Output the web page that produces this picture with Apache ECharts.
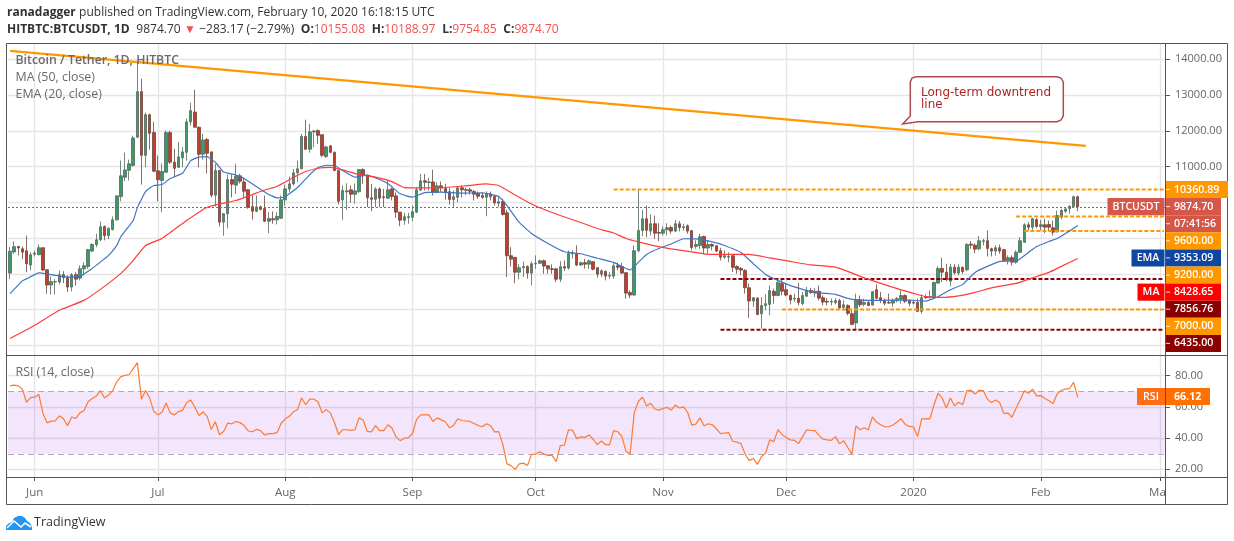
<!DOCTYPE html>
<html>
<head>
<meta charset="utf-8">
<title>BTCUSDT</title>
<script src="https://cdn.jsdelivr.net/npm/echarts@6/dist/echarts.min.js"></script>
<style>html,body{margin:0;padding:0;background:#fff}#c{width:1234px;height:541px}</style>
</head>
<body>
<div id="c"></div>
<script>
const opens = [
8020,8610,8765,8700,8645,8245,8550,8535,8730,8115,
7685,7770,7770,7975,7890,7630,7975,7880,8140,8205,
8635,8815,8950,9325,9070,9240,9510,10160,10700,10895,
11030,11820,13095,11315,12450,11950,10880,10610,10840,11950,
11120,10980,11245,11400,12250,12525,12100,11345,11755,11410,
10200,10890,9445,9680,10635,10480,10740,10570,10350,9880,
9750,9875,9825,9470,9540,9510,9555,10070,10375,10515,
10825,10935,11840,11485,11970,12005,11890,11280,11580,11400,
10890,10070,10295,10350,10225,10300,10915,10755,10125,10085,
10375,10155,10115,10375,10180,9725,9500,9575,9585,9725,
10340,10600,10555,10570,10280,10460,10385,10295,10080,10140,
10405,10355,10350,10300,10245,10190,10140,10235,10160,9975,
10015,9705,8505,8460,8045,8170,8205,8020,8280,8295,
8365,8225,8140,8140,7850,8200,8160,8560,8560,8245,
8310,8270,8340,8170,7990,8065,7935,7935,8225,8205,
8030,7480,7405,8645,9210,9540,9195,9400,9155,9135,
9230,9295,9195,9400,9290,9345,9205,8765,8795,9045,
8720,8820,8785,8645,8465,8465,8505,8205,8150,8095,
7610,7240,7315,6885,7110,7145,7510,7395,7725,7555,
7395,7295,7315,7170,7375,7535,7460,7510,7330,7230,
7210,7195,7250,7060,7115,6885,6625,7275,7145,7195,
7125,7555,7330,7255,7200,7180,7250,7295,7390,7255,
7200,7200,6950,7360,7340,7340,7740,8150,8045,7795,
8185,8020,8180,8115,8830,8800,8700,8905,8925,8700,
8635,8730,8675,8375,8450,8325,8600,8885,9370,9305,
9520,9325,9370,9380,9285,9175,9585,9750,9825,9880,10155.08];
const highs = [
8750,8905,8775,8765,9070,8605,8645,8820,8735,8120,
7925,7850,8095,8075,7955,8020,8045,8235,8325,8700,
8855,9120,9465,9350,9305,9605,10185,11170,11390,11195,
11865,13960,13455,12510,12480,12255,11305,11090,12005,12005,
11495,11680,11540,12340,12785,13150,12115,11915,11800,11425,
11075,10905,9695,10775,10775,11075,10795,10700,10375,10190,
10190,9910,10190,9725,9745,9725,10190,10495,10720,10935,
11165,11915,12310,12190,12025,12040,11895,11585,11595,11420,
10895,10470,10535,10470,10525,10935,10950,10775,10515,10420,
10420,10375,10610,10405,10280,9730,9705,9705,9910,10420,
10795,10795,10685,10915,10560,10580,10515,10405,10330,10440,
10470,10405,10405,10350,10300,10280,10310,10300,10190,10145,
10095,9790,8745,8465,8265,8345,8235,8345,8515,8395,
8395,8235,8265,8160,8355,8375,8655,8655,8795,8345,
8420,8400,8345,8180,8125,8095,8045,8325,8310,8310,
8045,7535,8795,10350,9790,9910,9660,9630,9415,9325,
9415,9350,9510,9475,9400,9380,9230,8935,9120,9065,
8935,8855,8800,8730,8655,8605,8525,8235,8185,8130,
7725,7350,7350,7350,7425,7675,7585,7865,7865,7725,
7425,7445,7740,7490,7630,7610,7600,7675,7395,7320,
7305,7320,7305,7260,7145,7025,7445,7395,7305,7240,
7515,7705,7490,7305,7445,7305,7350,7535,7425,7275,
7255,7305,7425,7425,7535,7780,8205,8450,8280,8280,
8280,8265,8205,8855,8915,8855,9055,8980,9210,8730,
8795,8820,8700,8515,8515,8655,9025,9415,9445,9565,
9555,9510,9540,9490,9490,9770,9815,9860,9910,10185,10188.97];
const lows = [
7850,8560,8515,8410,8045,8095,8485,8515,8075,7445,
7425,7425,7705,7740,7490,7510,7675,7815,7955,8140,
8605,8745,8915,8935,8970,9210,9490,10030,10590,10610,
11000,11800,10495,10980,11475,10840,10030,9725,10830,11075,
10700,10960,10980,11165,12145,12095,10980,11195,10810,10135,
9880,9325,9065,9270,10135,10235,10525,10140,9820,9520,
9725,9770,9445,9135,9400,9380,9540,9910,10280,10470,
10560,10930,11465,11390,11540,11635,11260,11245,11370,10870,
9940,9510,9790,9985,9965,10255,10515,9865,9750,9865,
9865,9865,10095,10050,9565,9330,9370,9400,9470,9695,
10330,10330,10330,10190,10255,10280,10070,9940,9845,10000,
10140,10200,10220,10050,10095,10095,9610,10050,9910,9865,
9630,7910,8205,7740,7845,7910,7865,7675,8140,8280,
8000,8000,8000,7770,7770,8075,8115,8420,8215,8225,
8140,8140,8095,7890,7910,7815,7860,7860,8095,8000,
7305,7320,7390,8605,9055,9025,9070,8980,8915,9070,
9070,9120,9165,9185,9210,9120,8655,8700,8700,8560,
8560,8655,8605,8375,8420,8325,8050,8000,7955,7445,
6765,7070,6840,6465,6980,6840,7165,7370,7395,7370,
7145,7210,7115,7115,7350,7440,7350,7255,7115,7115,
7115,7145,7025,6960,6840,6560,6420,7070,7090,7090,
7110,7285,7180,7115,7165,7070,7200,7165,7180,7090,
7145,6925,6885,7305,7305,7320,7725,7770,7795,7655,
7980,7955,8000,8075,8700,8575,8655,8795,8485,8485,
8510,8560,8355,8260,8235,8280,8580,8860,9210,9230,
9285,9210,9135,9195,9070,9155,9530,9695,9680,9865,9754.85];
const closes = [
8630,8760,8720,8605,8280,8535,8580,8730,8105,7685,
7780,7780,7975,7890,7630,7975,7850,8140,8225,8675,
8820,8950,9315,9070,9270,9510,10180,10740,10905,11075,
11800,13095,11315,12450,11930,10870,10630,10860,11950,11120,
10950,11270,11410,12250,12565,12100,11345,11745,11370,10200,
10890,9445,9680,10635,10505,10720,10590,10310,9865,9750,
9865,9805,9470,9545,9510,9605,10070,10375,10515,10825,
10935,11840,11485,11970,11995,11875,11315,11550,11400,10890,
10030,10330,10320,10225,10320,10915,10755,10125,10085,10375,
10115,10135,10350,10160,9725,9500,9595,9595,9735,10350,
10600,10560,10570,10280,10460,10405,10280,10080,10155,10405,
10350,10335,10310,10225,10170,10140,10235,10160,9985,10015,
9660,8505,8410,8045,8170,8205,8020,8280,8295,8365,
8215,8140,8120,7850,8200,8160,8570,8580,8245,8310,
8270,8365,8130,7990,8085,7935,7955,8225,8185,8020,
7460,7405,8645,9210,9540,9220,9400,9135,9135,9230,
9290,9195,9400,9295,9315,9195,8735,8820,9035,8720,
8820,8775,8635,8465,8505,8485,8180,8130,8105,7610,
7240,7330,6865,7110,7165,7530,7395,7760,7515,7405,
7265,7315,7200,7390,7535,7480,7510,7320,7210,7210,
7230,7250,7045,7135,6895,6585,7275,7135,7200,7115,
7500,7315,7265,7175,7180,7250,7305,7390,7230,7175,
7180,6950,7330,7330,7360,7760,8150,8045,7835,8185,
8030,8185,8065,8820,8800,8690,8925,8925,8710,8635,
8730,8635,8375,8450,8325,8605,8925,9370,9305,9540,
9325,9370,9305,9305,9165,9630,9770,9815,9890,10158,9874.70];
const rsi = [
73.5,74,73.5,71.4,63,66,66.3,68,56,49.8,
50.9,51,54.3,52.4,48,53.6,52.6,56.2,57.6,63.3,
65.4,67,70.5,65.7,67.6,70.5,76.2,79.4,80.2,80.8,
84.6,88.4,65,70.5,65.7,57.2,54.9,56.6,62.5,56.2,
54.9,57,57.8,62.9,64.4,60,54.5,56.8,54,45.6,
50.5,42.2,44.3,49.6,49.2,50.7,50,48.1,44.6,44.1,
45.6,44.8,42,42.9,42.9,43.5,49.4,52.4,54,56.8,
58.3,65.7,61.4,65,65,63.3,56.2,58.3,56.2,50,
42.2,45.4,45.4,45,45.4,53,51.5,44.3,44,48,
44.8,44.8,48.6,46.5,40.8,38.4,40.1,40.3,43,52,
54.9,54.9,54.9,50.7,53,51.7,50.5,46.7,48.1,52.4,
51.3,51,50.7,49.4,48.1,47.3,49.2,48,44,44.2,
36,23.5,22.4,20,23.5,24,22.4,29.6,29.8,31.3,
29.8,29,29,25,35.3,35.5,45.4,45,39.7,40.8,
40.5,42,39.3,35.9,38.2,35.9,35.9,44.8,44.1,41,
31.5,30,56.2,63.5,66.3,60.6,62.3,58.7,58,59,
59.7,58,61.2,59.3,60,56.6,48.4,49,53,47.9,
49.2,48.6,46,42.9,43.3,43.5,38,37.4,36.5,29.8,
25.6,27,23.2,28.3,30.4,39,37.8,45.4,42.4,40.5,
38.9,38.6,36.5,41,45.4,45,44.8,41.8,39.3,38.9,
38.6,41,36.5,38.4,34,29.8,47.9,45.4,46.7,45.4,
53.6,50.3,48.6,47.3,47.3,48.4,50.3,52.4,48.8,47.5,
47.3,41,52.4,52.4,52.4,61.4,68.8,65.7,59.3,65.7,
60.8,63,61.4,70.5,70.7,68.2,70.7,70.5,65,62.9,
64.4,62.9,55.7,56.2,53.4,59.3,64.6,70.3,68.8,71.4,
67.1,67.3,65.4,64,62,68.4,70.7,71.4,71.8,75.8,66.12];
// [bar index, value]
const emaPoints = [[0,7444],[3,7802],[4,7857],[7,8025],[10,7975],[14,7908],[17,7927],[20,8151],[22,8327],[24,8514],[26,8793],[27,9044],[30,9491],[31,9854],[33,10301],[35,10469],[37,10497],[39,10664],[42,10812],[44,11167],[46,11265],[48,11279],[50,11120],[52,10846],[55,10762],[57,10664],[60,10441],[63,10218],[65,10125],[67,10153],[70,10413],[73,10776],[75,10972],[77,11036],[79,11028],[81,10888],[84,10701],[87,10762],[92,10525],[95,10237],[98,10142],[101,10273],[105,10282],[110,10254],[115,10265],[119,10162],[121,9910],[124,9436],[127,9128],[131,8849],[135,8617],[139,8561],[143,8436],[147,8318],[151,8109],[153,8318],[155,8542],[158,8709],[161,8835],[164,8980],[167,8975],[170,8919],[174,8793],[178,8598],[181,8282],[184,7983],[187,7816],[191,7634],[196,7480],[201,7425],[204,7313],[207,7263],[212,7257],[218,7271],[223,7237],[226,7360],[229,7556],[232,7704],[235,8039],[238,8207],[241,8346],[245,8355],[248,8598],[250,8765],[253,8905],[255,8989],[258,9198],[260,9353.09]];
const maPoints = [[0,6188],[6,6559],[12,6978],[18,7257],[22,7564],[27,8011],[30,8374],[33,8793],[37,8989],[43,9491],[48,9863],[55,10050],[62,10343],[65,10441],[69,10692],[72,10860],[75,10952],[78,10977],[81,10907],[85,10776],[89,10706],[93,10580],[96,10413],[101,10405],[105,10405],[111,10461],[116,10516],[119,10469],[123,10204],[128,9896],[134,9631],[140,9394],[143,9268],[147,9142],[150,8989],[153,8891],[157,8779],[161,8695],[166,8612],[170,8542],[175,8542],[180,8542],[185,8444],[190,8346],[195,8249],[201,8187],[204,8067],[207,7927],[212,7732],[217,7550],[220,7452],[223,7360],[227,7341],[231,7383],[235,7480],[239,7606],[245,7732],[249,7885],[253,8039],[256,8207],[260,8428.65]];
const trendPoints = [[0,14234],[262,11578]];
const levelValues = [10360.89,9600,9200,7856.76,7000,6435];
const levelStarts = [147,245,247,173,188,173];
const levelColors = ['#FF9800','#FF9800','#FF9800','#8B0000','#FF9800','#8B0000'];
const lastPrice = 9874.70;
const priceGrid = [14000,13000,12000,11000,10000,9000,8000,7000,6000];
const priceLabels = [14000,13000,12000,11000];
const rsiTicks = [80,60,40,20];
const rsiBounds = [70,30];
const monthIdx = [6,36,67,98,128,159,189,220,251,280];
const monthNames = ['Jun','Jul','Aug','Sep','Oct','Nov','Dec','2020','Feb','Mar'];
const startDay = Date.UTC(2019,4,26);
const categories = [];
for (let i=0;i<282;i++) categories.push(new Date(startDay+i*864e5).toISOString().slice(0,10));

const tagRows = [
 ['10360.89','#FF9800',null,62],['9874.70','#D5574A','BTCUSDT',55],['07:41:56','#D5574A',null,55],
 ['9600.00','#FF9800',null,55],['9353.09','#0D47A1','EMA',55],['9200.00','#FF9800',null,55],
 ['8428.65','#FF0000','MA',55],['7856.76','#8B0000',null,55],['7000.00','#FF9800',null,55],['6435.00','#8B0000',null,55]];
const FONT = '"Open Sans", "Noto Sans", sans-serif';

const graphics = [];
graphics.push({type:'rect',z:90,shape:{x:1166,y:478,width:61,height:26},style:{fill:'#fff'}});
[[6,43,1227,43],[6,504,1227,504],[6,355,1227,355],[6,477,1227,477],[6,43,6,504],[1227,43,1227,504],[1165,43,1165,504]]
 .forEach(l=>graphics.push({type:'line',z:95,shape:{x1:l[0]+.5,y1:l[1]+.5,x2:l[2]+.5,y2:l[3]+.5},style:{stroke:'#555',lineWidth:1}}));
tagRows.forEach((r,k)=>{
  const y = 181+k*17.1, h=17.1;
  graphics.push({type:'rect',z:100,shape:{x:1166,y:y,width:r[3],height:h},style:{fill:r[1]}});
  graphics.push({type:'rect',z:101,shape:{x:1166,y:y+8,width:4,height:1},style:{fill:'rgba(255,255,255,.85)'}});
  graphics.push({type:'text',z:102,x:1174,y:y+h/2,style:{text:r[0],font:'600 10.6px '+FONT,fill:'#fff',textVerticalAlign:'middle',textAlign:'left'}});
  if (r[2]) {
    const w = r[2]==='BTCUSDT'?57:r[2]==='EMA'?33:27;
    graphics.push({type:'rect',z:100,shape:{x:1164.5-w,y:y,width:w,height:h},style:{fill:r[1]}});
    graphics.push({type:'text',z:102,x:1164.5-w/2,y:y+h/2,style:{text:r[2],font:'600 10.6px '+FONT,fill:'#fff',textAlign:'center',textVerticalAlign:'middle'}});
  }
});
graphics.push({type:'rect',z:100,shape:{x:1137,y:388,width:28,height:17},style:{fill:'#FF6D14'}});
graphics.push({type:'text',z:102,x:1151,y:396.5,style:{text:'RSI',font:'600 10.6px '+FONT,fill:'#fff',textAlign:'center',textVerticalAlign:'middle'}});
graphics.push({type:'rect',z:100,shape:{x:1166,y:388,width:44,height:17},style:{fill:'#FF7000'}});
graphics.push({type:'text',z:102,x:1174,y:396.5,style:{text:'66.12',font:'700 10.6px '+FONT,fill:'#fff',textVerticalAlign:'middle'}});
[['Bitcoin / Tether, 1D, HITBTC',15.5,60.5,'600 12.3px '],['MA (50, close)',15.5,77.7,'400 12.4px '],['EMA (20, close)',15.5,94.7,'400 12.4px '],['RSI (14, close)',15.5,372.7,'400 12.4px ']]
 .forEach(t=>graphics.push({type:'text',z:80,x:t[1],y:t[2],style:{text:t[0],font:t[3]+FONT,fill:'#6a6a6a',textVerticalAlign:'middle'}}));
graphics.push({type:'text',z:80,x:7,y:12.5,style:{text:'{b|ranadagger} {n|published on TradingView.com, February 10, 2020 16:18:15 UTC}',textVerticalAlign:'middle',
  rich:{b:{font:'700 12px '+FONT,fill:'#333'},n:{font:'400 12px '+FONT,fill:'#333'}}}});
graphics.push({type:'text',z:80,x:7,y:29.5,style:{text:'{b|HITBTC:BTCUSDT, 1D}  {n|9874.70} {r|▼} {n|−283.17 (−2.79%)}  {b|O:}{r|10155.08}  {b|H:}{r|10188.97}  {b|L:}{r|9754.85}  {b|C:}{r|9874.70}',textVerticalAlign:'middle',
  rich:{b:{font:'700 12px '+FONT,fill:'#333'},n:{font:'400 12px '+FONT,fill:'#333'},r:{font:'400 12px '+FONT,fill:'#F4524F'}}}});
// callout outline
graphics.push({type:'polygon',z:85,shape:{points:[[916,76.7],[1057,76.7],[1061,78],[1063.3,82],[1063.3,116],[1061,120],[1057,121.7],[918,121.7],[902.7,124],[910.3,116],[910.3,82],[912,78]]},style:{fill:'#fff',stroke:'#AD4A4A',lineWidth:1.5}});
graphics.push({type:'text',z:86,x:921,y:92.7,style:{text:'Long-term downtrend',font:'12px "DejaVu Sans"',fill:'#B22222',textVerticalAlign:'middle'}});
graphics.push({type:'text',z:86,x:921,y:104.7,style:{text:'line',font:'12px "DejaVu Sans"',fill:'#B22222',textVerticalAlign:'middle'}});
// logo
graphics.push({type:'polygon',z:80,shape:{points:[[6,530],[6,526],[9,523],[12,522],[14,518],[18,516],[22,516],[25,518],[27,521],[30,523],[32,527],[32,530]]},style:{fill:'#2196F3'}});
graphics.push({type:'polyline',z:81,shape:{points:[[7,528],[14,521],[21,527],[25,523],[31,527]]},style:{stroke:'#fff',lineWidth:1.6,fill:null}});
graphics.push({type:'text',z:80,x:34,y:522.5,style:{text:'TradingView',font:'400 12.5px '+FONT,fill:'#333',textVerticalAlign:'middle'}});

const isMonth = i => monthIdx.indexOf(i)>=0;
const gridStyle = {show:true,interval:(i)=>isMonth(i),alignWithLabel:true,lineStyle:{color:'#e5e5e5',width:1.3}};
const hGrid = {show:true,lineStyle:{color:'#e5e5e5',width:1.3}};

const series = [
 {type:'candlestick',xAxisIndex:0,yAxisIndex:0,barWidth:3,z:3,
  data:opens.map((o,i)=>[o,closes[i],lows[i],highs[i]]),
  itemStyle:{color:'#3C9A68',color0:'#C23E2A',borderColor:'#56675C',borderColor0:'#6A4640',borderWidth:0.8},
  markLine:{silent:true,symbol:'none',animation:false,label:{show:false},lineStyle:{color:'#E53935',type:[2,2],width:1},data:[{yAxis:lastPrice}]}},
 {type:'line',xAxisIndex:0,yAxisIndex:0,data:emaPoints,showSymbol:false,smooth:0.12,z:5,lineStyle:{color:'#3F74C4',width:1.2}},
 {type:'line',xAxisIndex:0,yAxisIndex:0,data:maPoints,showSymbol:false,smooth:0.12,z:5,lineStyle:{color:'#FF3B3B',width:1.2}},
 {type:'line',xAxisIndex:0,yAxisIndex:0,data:trendPoints,showSymbol:false,z:6,lineStyle:{color:'#FF9800',width:2.2}},
 {type:'line',xAxisIndex:1,yAxisIndex:1,data:rsi,showSymbol:false,z:5,lineStyle:{color:'#FF7A2E',width:1.2},
  markArea:{silent:true,animation:false,itemStyle:{color:'rgba(146,19,228,0.11)',opacity:1},data:[[{yAxis:rsiBounds[0]},{yAxis:rsiBounds[1]}]]},
  markLine:{silent:true,symbol:'none',animation:false,label:{show:false},lineStyle:{color:'#b8a8bd',type:[6,4],width:1},data:rsiBounds.map(v=>({yAxis:v}))}}
];
levelValues.forEach((v,k)=>series.push({type:'line',xAxisIndex:0,yAxisIndex:0,showSymbol:false,z:4,
  data:[[levelStarts[k],v],[281,v]],lineStyle:{color:levelColors[k],width:2,type:[4,2]}}));

const chart = echarts.init(document.getElementById('c'),null,{renderer:'canvas'});
chart.setOption({
  animation:false,backgroundColor:'#fff',
  graphic:{elements:graphics},
  grid:[{left:8,top:44,width:1158,height:311},{left:8,top:355,width:1158,height:122}],
  xAxis:[
   {type:'category',gridIndex:0,data:categories,axisLine:{show:false},axisTick:{show:false},axisLabel:{show:false},splitLine:gridStyle},
   {type:'category',gridIndex:1,data:categories,axisLine:{show:false},
    axisTick:{show:true,alignWithLabel:true,length:4,interval:(i)=>isMonth(i),lineStyle:{color:'#555'}},
    axisLabel:{show:true,interval:(i)=>isMonth(i),hideOverlap:false,margin:10,fontFamily:FONT,fontSize:11.5,color:'#666',
      formatter:(v,i)=>monthNames[monthIdx.indexOf(i)]||''},
    splitLine:gridStyle}
  ],
  yAxis:[
   {type:'value',gridIndex:0,position:'right',min:5728.7,max:14428,scale:true,axisLine:{show:false},
    axisTick:{show:true,length:4,customValues:priceGrid,lineStyle:{color:'#555'}},
    axisLabel:{show:true,customValues:priceLabels,margin:9,fontFamily:FONT,fontSize:11,color:'#666',formatter:v=>v.toFixed(2)},
    splitLine:hGrid},
   {type:'value',gridIndex:1,position:'right',min:15.1,max:93.3,scale:true,axisLine:{show:false},
    axisTick:{show:true,length:4,customValues:rsiTicks,lineStyle:{color:'#555'}},
    axisLabel:{show:true,customValues:rsiTicks,margin:9,fontFamily:FONT,fontSize:11,color:'#666',formatter:v=>v.toFixed(2)},
    splitLine:hGrid}
  ],
  series:series
});
</script>
</body>
</html>
